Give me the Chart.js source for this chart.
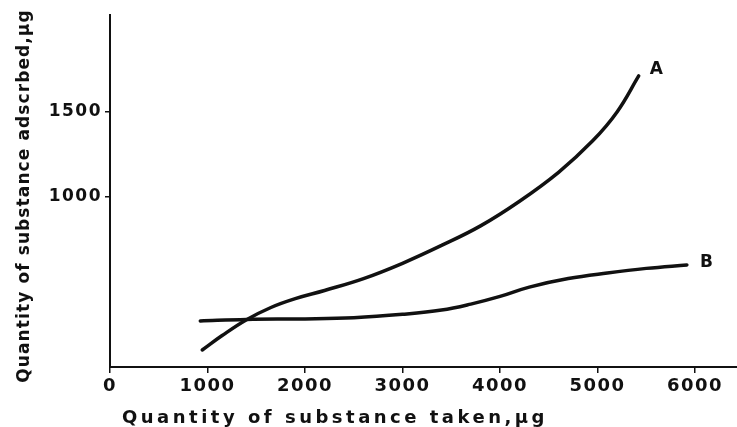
<!DOCTYPE html>
<html>
<head>
<meta charset="utf-8">
<script src="https://cdn.jsdelivr.net/npm/chart.js@4.4.1/dist/chart.umd.min.js"></script>
<style>
  html, body { margin: 0; padding: 0; background: #fff; }
  #wrap { width: 737px; height: 427px; }
</style>
</head>
<body>
<div id="wrap"><canvas id="adsorption-chart"></canvas></div>
<script>
// Values, in µg
const takenA = [946, 1150, 1400, 1650, 1900, 2200, 2600, 3000, 3400, 3800, 4200, 4600, 4950, 5200, 5422];
const adsorbedA = [100, 185, 278, 350, 402, 450, 520, 610, 715, 830, 975, 1145, 1330, 1500, 1712];
const takenB = [926, 1400, 2000, 2500, 3000, 3400, 3700, 4000, 4300, 4700, 5100, 5500, 5916];
const adsorbedB = [271, 280, 283, 290, 310, 335, 370, 415, 470, 520, 553, 580, 600];
const curveNames = ['A', 'B'];
const xTickValues = [0, 1000, 2000, 3000, 4000, 5000, 6000];
const yTickValues = [1000, 1500];
const xTitle = 'Quantity of substance taken,µg';
const yTitle = 'Quantity of substance adscrbed,µg';

const ink = '#111';
const fontFamily = "'DejaVu Sans', sans-serif";

function toPoints(xs, ys) {
    return xs.map((x, i) => ({ x: x, y: ys[i] }));
}

// letter spacing for ticks and axis titles (the scan uses a wide typeface)
const titleTweaks = {
    x: { spacing: '3.5px', dx: 12, dy: 0 },
    y: { spacing: '1.1px', dx: 0, dy: 5 }
};
const spacedText = {
    id: 'spacedText',
    beforeDraw(chart) {
        chart.ctx.letterSpacing = '1.5px';
        Object.values(chart.scales).forEach(scale => {
            if (scale._spaced) return;
            const orig = scale.drawTitle;
            const cfg = titleTweaks[scale.id];
            scale.drawTitle = function () {
                const ctx = this.ctx;
                ctx.save();
                ctx.letterSpacing = cfg.spacing;
                ctx.translate(cfg.dx, cfg.dy);
                orig.call(this);
                ctx.restore();
            };
            scale._spaced = true;
        });
    },
    afterDraw(chart) {
        chart.ctx.letterSpacing = '0px';
    }
};

// "A" and "B" next to the end of each curve
const labelOffsets = [{ dx: 11, dy: -6 }, { dx: 13, dy: -2 }];
const curveLabels = {
    id: 'curveLabels',
    afterDatasetsDraw(chart) {
        const ctx = chart.ctx;
        ctx.save();
        ctx.letterSpacing = '0px';
        ctx.font = 'bold 17px ' + fontFamily;
        ctx.fillStyle = ink;
        ctx.textAlign = 'left';
        ctx.textBaseline = 'middle';
        chart.data.datasets.forEach((ds, i) => {
            const pts = chart.getDatasetMeta(i).data;
            const last = pts[pts.length - 1];
            ctx.fillText(ds.label, last.x + labelOffsets[i].dx, last.y + labelOffsets[i].dy);
        });
        ctx.restore();
    }
};

const curveStyle = {
    showLine: true,
    borderColor: ink,
    borderWidth: 3.5,
    pointRadius: 0,
    tension: 0.4,
    borderCapStyle: 'round',
    fill: false
};

const ctx = document.getElementById('adsorption-chart').getContext('2d');
const adsorptionChart = new Chart(ctx, {
    type: 'scatter',
    data: {
        datasets: [
            Object.assign({ label: curveNames[0], data: toPoints(takenA, adsorbedA) }, curveStyle),
            Object.assign({ label: curveNames[1], data: toPoints(takenB, adsorbedB) }, curveStyle)
        ]
    },
    options: {
        responsive: true,
        maintainAspectRatio: false,
        animation: false,
        layout: { padding: { top: 15, left: 0, right: 0, bottom: 0 } },
        plugins: {
            legend: { display: false },
            tooltip: { enabled: false }
        },
        scales: {
            x: {
                type: 'linear',
                min: 0,
                max: 6430,
                afterBuildTicks: scale => { scale.ticks = xTickValues.map(v => ({ value: v })); },
                afterFit: scale => { scale.height = 60; },
                border: { color: ink, width: 2 },
                grid: { drawOnChartArea: false, drawTicks: true, tickLength: 6, color: ink, lineWidth: 1.5 },
                ticks: {
                    color: ink,
                    font: { family: fontFamily, size: 18, weight: 'bold' },
                    padding: 3,
                    maxRotation: 0,
                    autoSkip: false,
                    callback: v => String(v)
                },
                title: {
                    display: true,
                    text: xTitle,
                    align: 'start',
                    color: ink,
                    font: { family: fontFamily, size: 18, weight: 'bold', lineHeight: 1 },
                    padding: { top: 0, bottom: 0 }
                }
            },
            y: {
                type: 'linear',
                min: 0,
                max: 2070,
                afterBuildTicks: scale => { scale.ticks = yTickValues.map(v => ({ value: v })); },
                afterFit: scale => { scale.width = 110; },
                border: { color: ink, width: 2 },
                grid: { drawOnChartArea: false, drawTicks: true, tickLength: 5, color: ink, lineWidth: 1.5 },
                ticks: {
                    color: ink,
                    font: { family: fontFamily, size: 17, weight: 'bold' },
                    padding: 3,
                    callback: v => String(v)
                },
                title: {
                    display: true,
                    text: yTitle,
                    color: ink,
                    font: { family: fontFamily, size: 17, weight: 'bold' },
                    padding: { top: 14, bottom: 0 }
                }
            }
        }
    },
    plugins: [spacedText, curveLabels]
});
</script>
</body>
</html>
